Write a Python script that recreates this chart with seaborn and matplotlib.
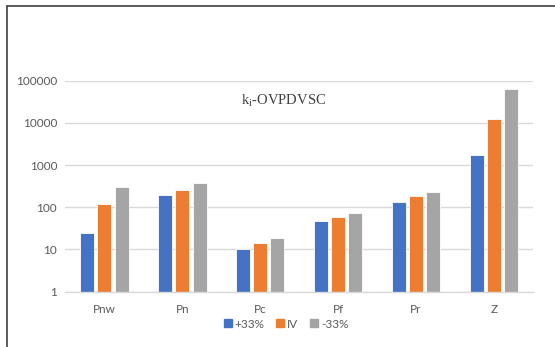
import matplotlib
matplotlib.use("Agg")
import matplotlib.pyplot as plt
import matplotlib.ticker as mticker
from matplotlib.lines import Line2D
import pandas as pd
import seaborn as sns

categories = ["Pnw", "Pn", "Pc", "Pf", "Pr", "Z"]
series_names = ["+33%", "IV", "-33%"]
plus33 = [24, 192, 10.3, 46.5, 133, 1710]
iv = [120, 261, 14.5, 60, 185, 12200]
minus33 = [303, 383, 18.4, 73, 234, 64600]
colors = ["#4472C4", "#ED7D31", "#A5A5A5"]

df = pd.DataFrame({
    "cat": categories * 3,
    "series": [series_names[0]] * 6 + [series_names[1]] * 6 + [series_names[2]] * 6,
    "value": plus33 + iv + minus33,
})

sns.set_style("white")
plt.rcParams["font.family"] = ["Lato", "DejaVu Sans"]

fig = plt.figure(figsize=(5.55, 3.47), dpi=100)
ax = fig.add_axes([0.118, 0.1594, 0.842, 0.608])
ax.set_yscale("log")
sns.barplot(data=df, x="cat", y="value", hue="series", order=categories,
            hue_order=series_names, palette=colors, saturation=1,
            width=0.666, gap=0.19, edgecolor="white", linewidth=0.6,
            errorbar=None, ax=ax, legend=False)
ax.set_ylim(1, 1e5)
ax.set_xlim(-0.5, 5.5)
ax.yaxis.set_major_locator(mticker.LogLocator(base=10, numticks=10))
ax.yaxis.set_minor_locator(mticker.NullLocator())
ax.yaxis.set_major_formatter(mticker.FuncFormatter(lambda v, p: f"{int(round(v))}"))
ax.grid(axis="y", color="#d9d9d9", linewidth=1.0)
ax.set_axisbelow(True)
for s in ["top", "right", "left"]:
    ax.spines[s].set_visible(False)
ax.spines["bottom"].set_color("#d9d9d9")
ax.spines["bottom"].set_linewidth(1.0)
ax.tick_params(axis="both", length=0, labelsize=8.5, colors="#595959", pad=6)
ax.tick_params(axis="x", pad=9)
ax.set_xlabel("")
ax.set_ylabel("")

ax.text(0.466, 0.905, r"k$_\mathregular{i}$-OVPDVSC", transform=ax.transAxes,
        ha="center", va="center", fontsize=10.5, color="#404040",
        family="Liberation Serif")

handles = [Line2D([], [], marker="s", linestyle="none", markersize=6,
                  markerfacecolor=c, markeredgecolor=c) for c in colors]
fig.legend(handles, series_names, loc="center", bbox_to_anchor=(0.516, 0.066),
           ncol=3, frameon=False, fontsize=8.5, handlelength=0.6,
           handletextpad=0.3, columnspacing=1.0, labelcolor="#595959")

# chart frame
fig.add_artist(Line2D([7 / 555, 7 / 555], [0, 1 - 6 / 347], color="#404040",
                      linewidth=1.2, transform=fig.transFigure))
fig.add_artist(Line2D([7 / 555, 1], [1 - 6 / 347, 1 - 6 / 347], color="#404040",
                      linewidth=1.2, transform=fig.transFigure))

fig.savefig("out.png", dpi=100)
